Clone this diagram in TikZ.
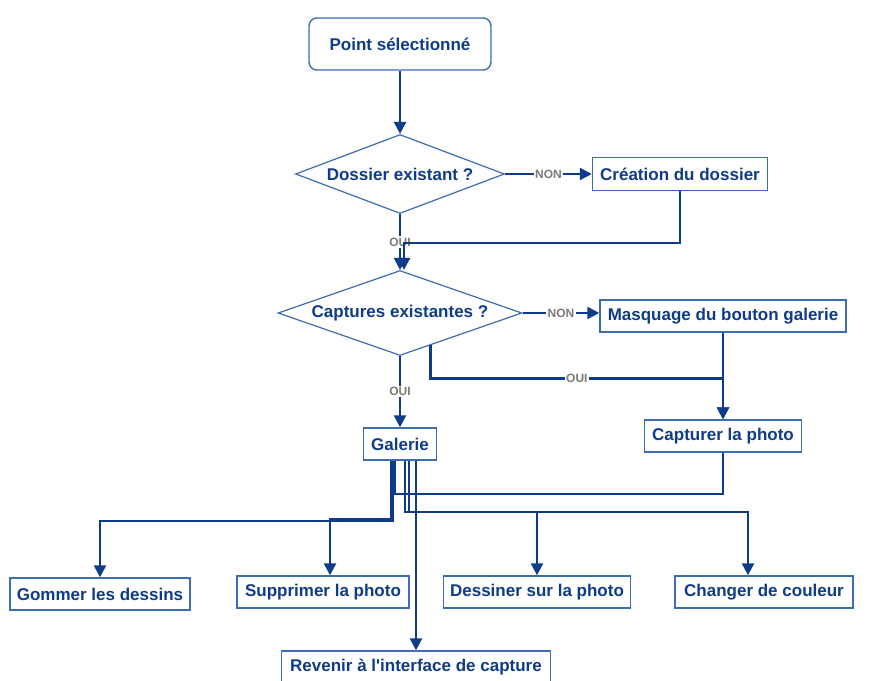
\documentclass[tikz,border=0pt]{standalone}
\usepackage{fontspec}
\setmainfont{Liberation Sans}
\usetikzlibrary{arrows.meta,calc,shapes.geometric}
\definecolor{ink}{HTML}{0F3C88}
\definecolor{frame}{HTML}{3D6CB0}
\definecolor{ash}{HTML}{7A7A7A}

\begin{document}
\begin{tikzpicture}[x=1pt,y=-1pt,>={Triangle[length=12pt,width=12pt]},
  font=\bfseries\fontsize{17}{20}\selectfont,
  box/.style={draw=frame,line width=1.4pt,fill=white,text=ink,inner sep=0pt,
              minimum height=32pt},
  choice/.style={diamond,draw=frame,line width=1.2pt,fill=white,text=ink,
                 inner sep=0pt,aspect=2.6},
  flow/.style={draw=ink,line width=2.4pt},
  tag/.style={text=ash,fill=white,inner sep=1.5pt,
              font=\bfseries\fontsize{12}{14}\selectfont}]
\useasboundingbox (0,0) rectangle (870,680);

% ---------------- upper part: the two tests
\node[box,rounded corners=8pt,minimum width=182pt,minimum height=52pt] (start) at (400,44) {Point sélectionné};
\node[choice,minimum width=209pt,minimum height=79pt] (d1) at (400,174) {Dossier existant ?};
\node[box,minimum width=175pt,minimum height=33pt] (creation) at (680,174) {Création du dossier};
\node[choice,minimum width=244pt,minimum height=85pt] (d2) at (400,313) {Captures existantes ?};
\node[box,minimum width=246pt] (masquage) at (723,316) {Masquage du bouton galerie};
\node[box,minimum width=73pt] (galerie) at (400,444) {Galerie};
\node[box,minimum width=157pt] (capture) at (723,436) {Capturer la photo};

% ---------------- lower part: the gallery actions
\node[box,minimum width=180pt] (gommer) at (100,594) {Gommer les dessins};
\node[box,minimum width=172pt] (supprimer) at (323,592) {Supprimer la photo};
\node[box,minimum width=187pt] (dessiner) at (537,592) {Dessiner sur la photo};
\node[box,minimum width=178pt] (changer) at (764,592) {Changer de couleur};
\node[box,minimum width=269pt] (revenir) at (416,667) {Revenir à l\textquotesingle interface de capture};

\coordinate (j1) at (404,243);

\draw[flow,->] (start) -- (d1);
\draw[flow,->] (d1.east) -- node[tag] {NON} (creation.west);
\draw[flow,->] (d1) -- node[tag] {OUI} (d2);
\draw[flow,->] (creation.south) |- (j1) -- (j1 |- d2.north);
\draw[flow,->] (d2.east) -- node[tag] {NON} (d2.east -| masquage.west);
\draw[flow,->] (d2) -- node[tag] {OUI} (galerie);
\draw[flow,->] ($(d2.south)!0.25!(d2.east)$) -- ++(0,33)
    -| node[tag,pos=0.25] {OUI} (capture.north);
\draw[flow,->] (masquage) -- (capture);

\draw[flow] (capture.south) -- ++(0,41) -| ([xshift=-5pt]galerie.south);
\draw[flow,->] ([xshift=-7pt]galerie.south) -- ++(0,60) -| (gommer.north);
\draw[flow,->] ([xshift=-9pt]galerie.south) -- ++(0,58) -| ([xshift=7pt]supprimer.north);
\draw[flow,->] ([xshift=5pt]galerie.south) -- ++(0,51) -| (dessiner.north);
\draw[flow,->] ([xshift=9pt]galerie.south) -- ++(0,51) -| ([xshift=-16pt]changer.north);
\draw[flow,->] ([xshift=16pt]galerie.south) -- (revenir.north);
\end{tikzpicture}
\end{document}
